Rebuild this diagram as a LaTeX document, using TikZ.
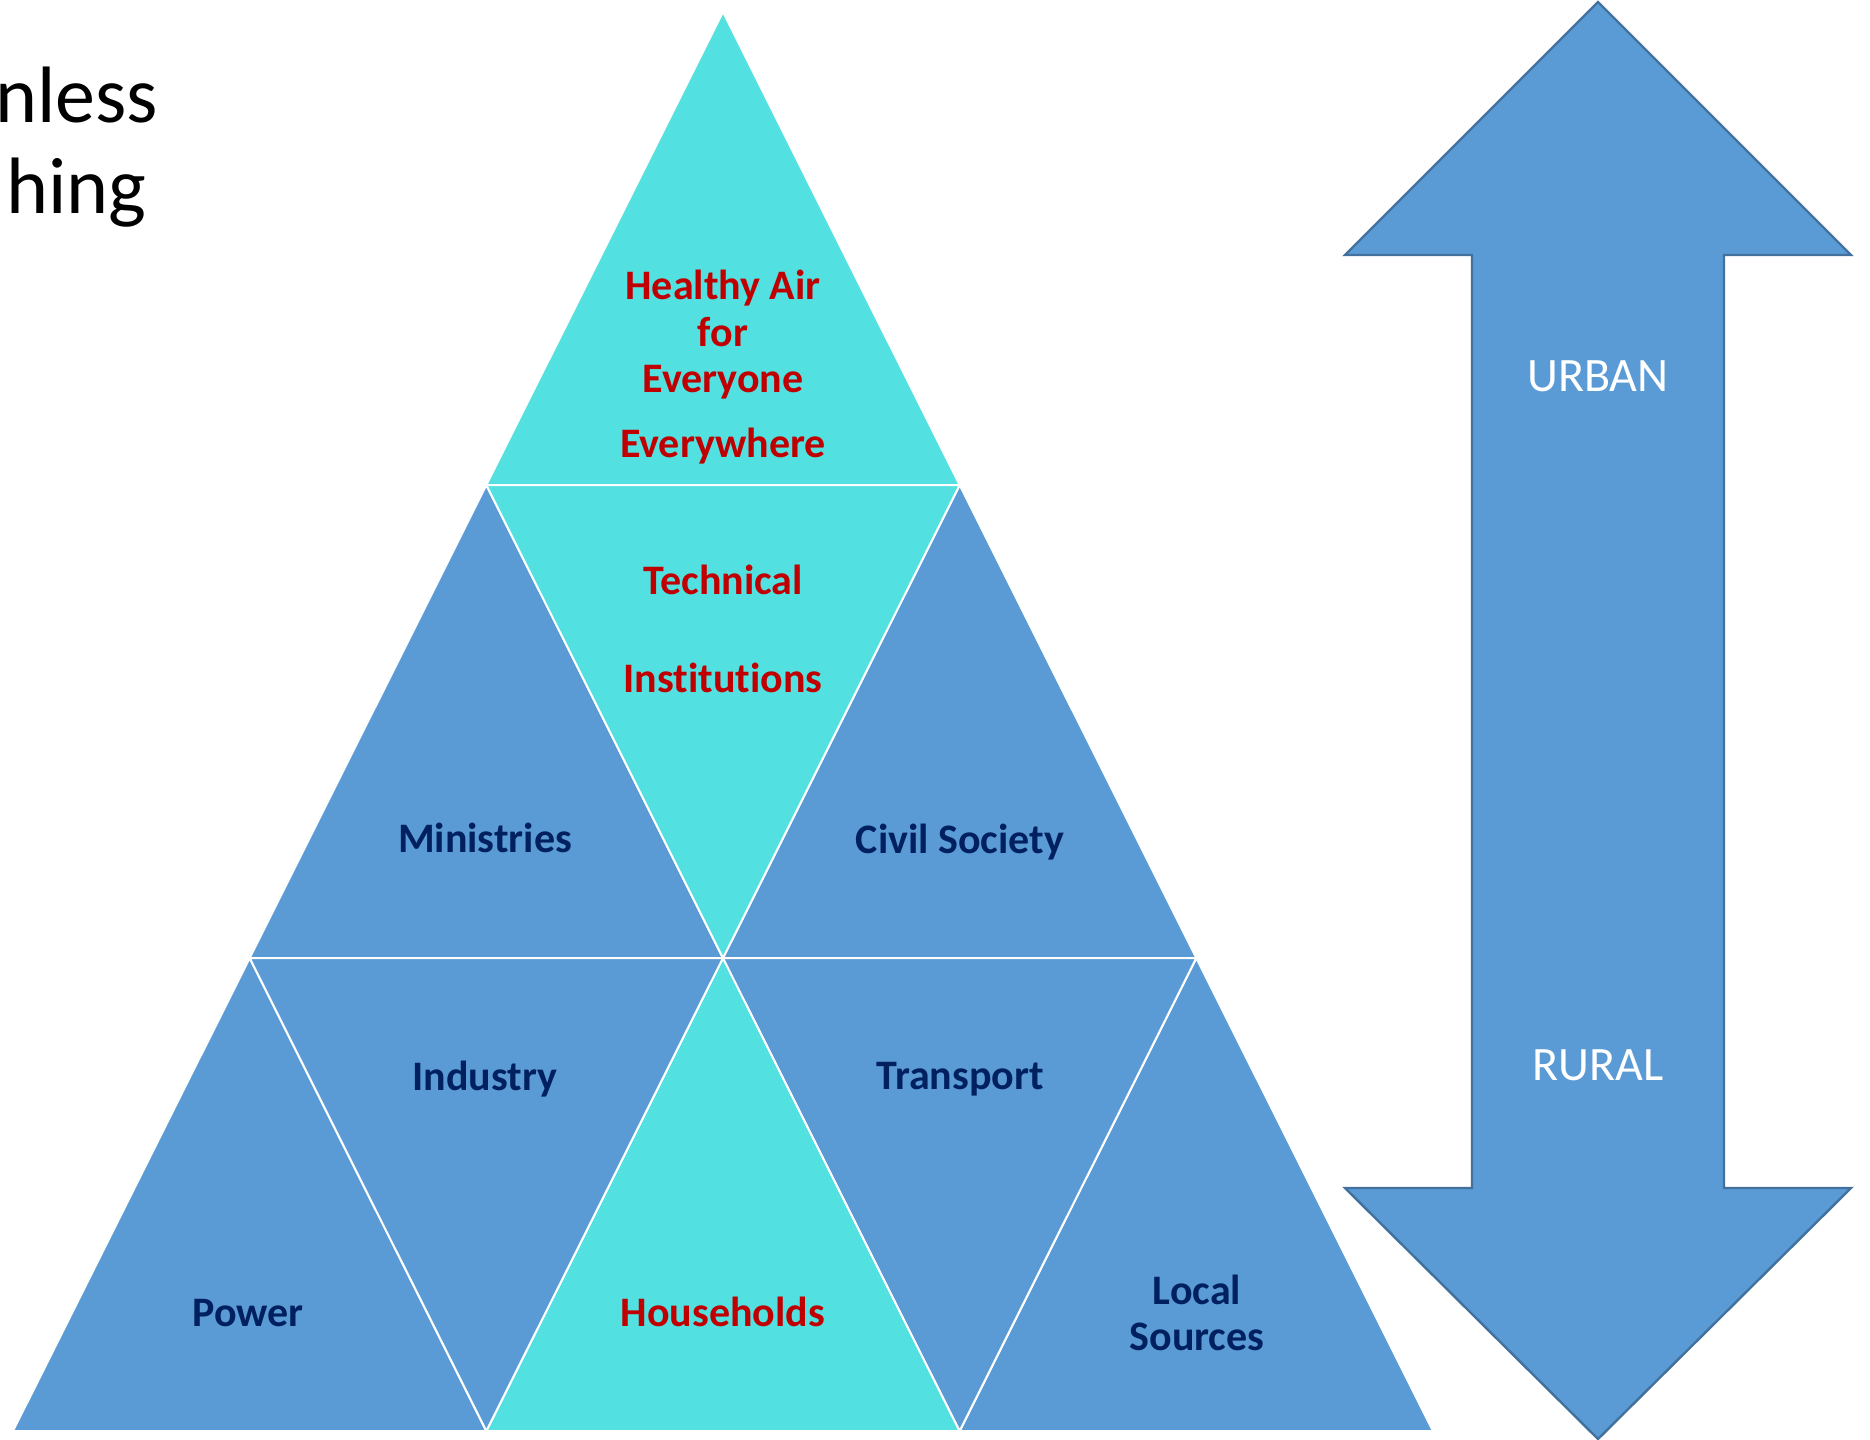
\documentclass[tikz,border=0pt]{standalone}
\usepackage{fontspec}
\setmainfont{Carlito}[Ligatures=CommonOff]
\usetikzlibrary{positioning}

\definecolor{cellcyan}{HTML}{52E0E0}
\definecolor{cellblue}{HTML}{5B9BD5}
\definecolor{arrowedge}{HTML}{41719C}
\definecolor{goalred}{HTML}{C00000}
\definecolor{actornavy}{HTML}{002060}

\begin{document}
\begin{tikzpicture}[x=0.5pt,y=-0.5pt,
    cell/.style={fill=#1,draw=white,line width=1pt,line join=round},
    goal/.style={font=\bfseries\fontsize{21}{23.3}\selectfont,text=goalred,align=center,inner sep=0pt},
    actor/.style={font=\bfseries\fontsize{21}{23.3}\selectfont,text=actornavy,align=center,inner sep=0pt},
    side/.style={font=\fontsize{24}{29}\selectfont,text=white,inner sep=0pt}]
\useasboundingbox (0,0) rectangle (1870,1440);

% corner points of the pyramid, row by row
\foreach \r in {0,...,3}
  \foreach \k in {0,...,\r}
    \coordinate (P\r\k) at ({723-236.67*\r+473.33*\k},{12+473*\r});

% upward cells
\foreach \r/\k/\c in {0/0/cellcyan,1/0/cellblue,1/1/cellblue,2/0/cellblue,2/1/cellcyan,2/2/cellblue}{
  \pgfmathtruncatemacro\rr{\r+1}
  \pgfmathtruncatemacro\kk{\k+1}
  \draw[cell=\c] (P\r\k) -- (P\rr\k) -- (P\rr\kk) -- cycle;
}
% downward cells
\foreach \r/\k/\c in {1/0/cellcyan,2/0/cellblue,2/1/cellblue}{
  \pgfmathtruncatemacro\rr{\r+1}
  \pgfmathtruncatemacro\kk{\k+1}
  \draw[cell=\c] (P\r\k) -- (P\r\kk) -- (P\rr\kk) -- cycle;
}

\node[goal] (goal) at (723,367) {Healthy Air\\for\\Everyone\\[9pt]Everywhere};
\node[goal] (tech) at (723,629) {Technical\\[26pt]Institutions};
\node[actor] (min) at (485,838) {Ministries};
\node[actor] (civ) at (960,842) {Civil Society};
\node[actor] (ind) at (485,1079) {Industry};
\node[actor] (tra) at (960,1079) {Transport};
\node[actor] (pow) at (248,1313) {Power};
\node[goal] (hh) at (723,1312) {Households};
\node[actor] (loc) at (1197,1313) {Local\\Sources};

% double arrow on the right
\draw[fill=cellblue,draw=arrowedge,line width=1.2pt] (1598,2) -- (1851,255) -- (1724,255) -- (1724,1188)
  -- (1851,1188) -- (1598,1439) -- (1345,1188) -- (1472,1188) -- (1472,255) -- (1345,255) -- cycle;
\node[side] (urban) at (1598,376) {URBAN};
\node[side] (rural) at (1598,1065) {RURAL};

% title, cut at the left edge
\node[anchor=base west,inner sep=0pt,font=\fontsize{40}{46}\selectfont] (t1) at (-5,122) {nless};
\node[anchor=base west,inner sep=0pt,font=\fontsize{40}{46}\selectfont] (t2) at (6,213) {hing};
\end{tikzpicture}
\end{document}
